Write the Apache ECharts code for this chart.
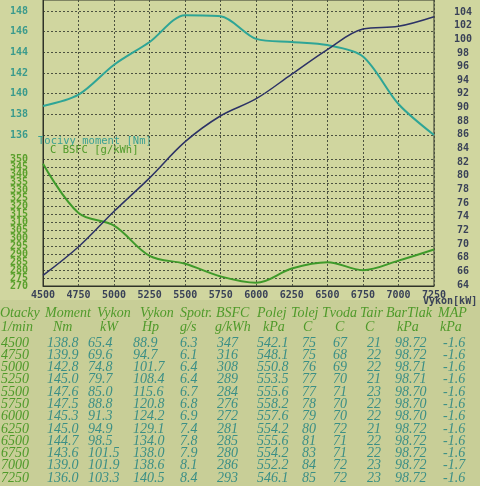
<!DOCTYPE html>
<html>
<head>
<meta charset="utf-8">
<script src="https://cdn.jsdelivr.net/npm/echarts@6/dist/echarts.min.js"></script>
<style>
  html, body { margin: 0; padding: 0; background: #cdd39c; }
  #chart { width: 480px; height: 486px; }
</style>
</head>
<body>
<div id="chart"></div>
<script>
// otacky (1/min)
var rpm = [4500, 4750, 5000, 5250, 5500, 5750, 6000, 6250, 6500, 6750, 7000, 7250];
// hodnoty z tabulky
var moment = [138.8, 139.9, 142.8, 145.0, 147.6, 147.5, 145.3, 145.0, 144.7, 143.6, 139.0, 136.0];
var vykonKw = [65.4, 69.6, 74.8, 79.7, 85.0, 88.8, 91.3, 94.9, 98.5, 101.5, 101.9, 103.3];
var vykonHp = [88.9, 94.7, 101.7, 108.4, 115.6, 120.8, 124.2, 129.1, 134.0, 138.0, 138.6, 140.5];
var spotr = [6.3, 6.1, 6.4, 6.4, 6.7, 6.8, 6.9, 7.4, 7.8, 7.9, 8.1, 8.4];
var bsfc = [347, 316, 308, 289, 284, 276, 272, 281, 285, 280, 286, 293];
var polej = [542.1, 548.1, 550.8, 553.5, 555.6, 558.2, 557.6, 554.2, 555.6, 554.2, 552.2, 546.1];
var tolej = [75, 75, 76, 77, 77, 78, 79, 80, 81, 83, 84, 85];
var tvoda = [67, 68, 69, 70, 71, 70, 70, 72, 71, 71, 72, 72];
var tair = [21, 22, 22, 21, 23, 22, 22, 21, 22, 22, 23, 23];
var barTlak = [98.72, 98.72, 98.71, 98.71, 98.70, 98.70, 98.70, 98.72, 98.72, 98.72, 98.72, 98.72];
var map = [-1.6, -1.6, -1.6, -1.6, -1.6, -1.6, -1.6, -1.6, -1.6, -1.6, -1.7, -1.6];

var headers = ['Otacky', 'Moment', 'Vykon', 'Vykon', 'Spotr.', 'BSFC', 'Polej', 'Tolej', 'Tvoda', 'Tair', 'BarTlak', 'MAP'];
var units = ['1/min', 'Nm', 'kW', 'Hp', 'g/s', 'g/kWh', 'kPa', 'C', 'C', 'C', 'kPa', 'kPa'];

var myChart = echarts.init(document.getElementById('chart'));

function pairs(ys) {
  return rpm.map(function (r, i) { return [r, ys[i]]; });
}
function fmt(v, d) { return v.toFixed(d); }

// sloupce tabulky
var columns = [
  { vals: rpm, d: 0 },
  { vals: moment, d: 1 },
  { vals: vykonKw, d: 1 },
  { vals: vykonHp, d: 1 },
  { vals: spotr, d: 1 },
  { vals: bsfc, d: 0 },
  { vals: polej, d: 1 },
  { vals: tolej, d: 0 },
  { vals: tvoda, d: 0 },
  { vals: tair, d: 0 },
  { vals: barTlak, d: 2 },
  { vals: map, d: 1 }
];
// x pozice: hlavicka, jednotka, hodnota
var colX = [
  [0, 1, 1], [45, 53, 47], [97, 100, 88], [140, 142, 133], [180, 180, 180], [216, 215, 217],
  [257, 263, 257], [291, 303, 302], [322, 335, 333], [360, 365, 367], [386, 397, 395], [438, 440, 443]
];

var tableFont = 'italic 14px "Liberation Serif", "DejaVu Serif", serif';
var green = '#4f9a2a';
var teal = '#3b8f86';
var elements = [];

elements.push({ type: 'rect', shape: { x: 0, y: 300, width: 480, height: 186 }, style: { fill: '#c8ce97' }, z: -1 });

headers.forEach(function (h, c) {
  elements.push({ type: 'text', x: colX[c][0], y: 313, style: { text: h, font: tableFont, fill: green, verticalAlign: 'middle' } });
  elements.push({ type: 'text', x: colX[c][1], y: 327, style: { text: units[c], font: tableFont, fill: green, verticalAlign: 'middle' } });
});
columns.forEach(function (col, c) {
  col.vals.forEach(function (v, i) {
    elements.push({
      type: 'text', x: colX[c][2], y: 343 + i * 12.27,
      style: { text: fmt(v, col.d), font: tableFont, fill: c == 0 ? green : teal, verticalAlign: 'middle' }
    });
  });
});

// popisky krivek
var monoFont = '10.5px "DejaVu Sans Mono", monospace';
elements.push({ type: 'text', x: 38, y: 141, style: { text: 'Tocivy moment [Nm]', font: monoFont, fill: '#3aa094', verticalAlign: 'middle' } });
elements.push({ type: 'text', x: 50, y: 150, style: { text: 'C BSFC [g/kWh]', font: monoFont, fill: '#4f9a2a', verticalAlign: 'middle' } });
elements.push({ type: 'text', x: 423, y: 301, style: { text: 'Vykon[kW]', font: 'bold 10px "DejaVu Sans Mono", monospace', fill: '#3a4258', verticalAlign: 'middle' } });

var hidX = function (g) {
  return { type: 'value', gridIndex: g, min: 4500, max: 7250, interval: 250, show: false };
};
var dashed = { show: true, lineStyle: { color: '#4c5240', type: [2, 2], width: 1 } };
var labelStyle = function (color, margin) {
  return {
    color: color, margin: margin, fontFamily: 'DejaVu Sans Mono', fontWeight: 'bold', fontSize: 10,
    showMinLabel: true, showMaxLabel: true, hideOverlap: false,
    formatter: function (v) { return String(v); }
  };
};

// BSFC popisky: sude desitky na hlavni ose, liche petky na pomocne
var bsfcEven = labelStyle('#5aa02c', 15);
bsfcEven.formatter = function (v) { return v % 10 === 0 ? String(v) : ''; };
var bsfcOdd = labelStyle('#5aa02c', 15);
bsfcOdd.showMinLabel = false;
bsfcOdd.showMaxLabel = false;

var option = {
  backgroundColor: '#d0d69f',
  animation: false,
  grid: [
    { left: 43, right: 46, top: 0, bottom: 200, show: true, borderColor: '#2f3328', borderWidth: 1 },
    { left: 43, right: 46, top: 11, height: 124 },
    { left: 43, right: 46, top: 159, height: 127 },
    { left: 43, right: 46, top: 12, height: 273 },
    { left: 43, right: 46, top: 151.06, height: 142.88 }
  ],
  xAxis: [
    {
      type: 'value', gridIndex: 0, min: 4500, max: 7250, interval: 250,
      axisLine: { show: true, lineStyle: { color: '#2f3328' } },
      axisTick: { show: false },
      axisLabel: labelStyle('#3a4258', 4),
      splitLine: dashed
    },
    hidX(1), hidX(2), hidX(3), hidX(4)
  ],
  yAxis: [
    { type: 'value', gridIndex: 0, min: 0, max: 1, axisLabel: { show: false }, axisTick: { show: false },
      splitLine: { show: false }, axisLine: { show: true, lineStyle: { color: '#2f3328' } } },
    {
      type: 'value', gridIndex: 1, min: 136, max: 148, interval: 2,
      axisLine: { show: false }, axisTick: { show: false },
      axisLabel: labelStyle('#3a9a8c', 15),
      splitLine: dashed
    },
    {
      type: 'value', gridIndex: 2, min: 270, max: 350, interval: 5,
      axisLine: { show: false }, axisTick: { show: false },
      axisLabel: bsfcEven,
      splitLine: dashed
    },
    {
      type: 'value', gridIndex: 3, position: 'right', min: 64, max: 104, interval: 2,
      axisLine: { show: false }, axisTick: { show: false },
      axisLabel: Object.assign(labelStyle('#3a4258', 29), { align: 'center' }),
      splitLine: { show: false }
    },
    {
      type: 'value', gridIndex: 4, min: 265, max: 355, interval: 10,
      axisLine: { show: false }, axisTick: { show: false },
      axisLabel: bsfcOdd,
      splitLine: { show: false }
    }
  ],
  series: [
    { name: 'Tocivy moment', type: 'line', xAxisIndex: 1, yAxisIndex: 1, data: pairs(moment),
      smooth: 0.3, showSymbol: false, lineStyle: { color: '#2ea596', width: 2 } },
    { name: 'BSFC', type: 'line', xAxisIndex: 2, yAxisIndex: 2, data: pairs(bsfc),
      smooth: 0.35, showSymbol: false, lineStyle: { color: '#3f9a2a', width: 2 } },
    { name: 'Vykon', type: 'line', xAxisIndex: 3, yAxisIndex: 3, data: pairs(vykonKw),
      smooth: 0.35, showSymbol: false, lineStyle: { color: '#2c3266', width: 1.5 } }
  ],
  graphic: { elements: elements }
};

myChart.setOption(option);
</script>
</body>
</html>
